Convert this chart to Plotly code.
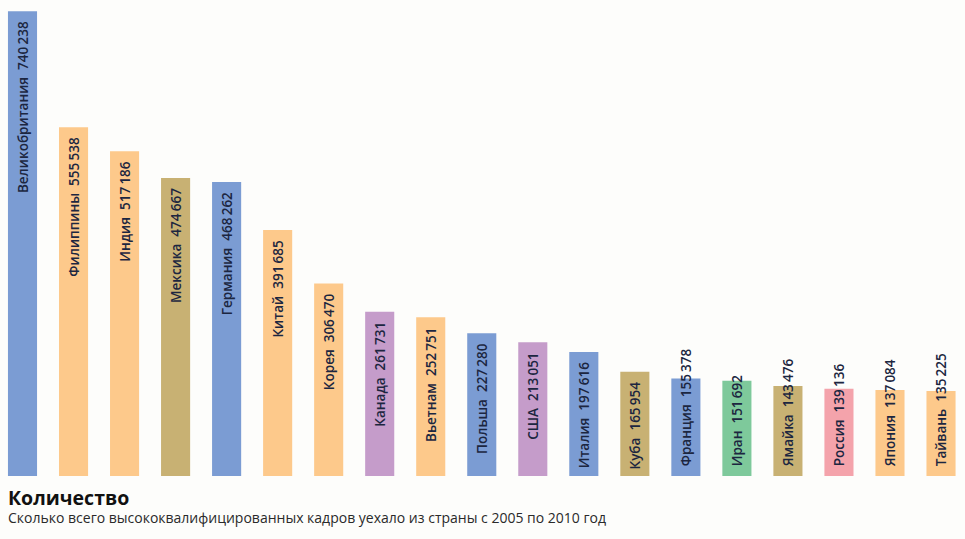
import plotly.graph_objects as go

countries = ["Великобритания", "Филиппины", "Индия", "Мексика", "Германия", "Китай", "Корея",
             "Канада", "Вьетнам", "Польша", "США", "Италия", "Куба", "Франция", "Иран",
             "Ямайка", "Россия", "Япония", "Тайвань"]
values = [740238, 555538, 517186, 474667, 468262, 391685, 306470, 261731, 252751, 227280,
          213051, 197616, 165954, 155378, 151692, 143476, 139136, 137084, 135225]
value_labels = ["740\u2009238", "555\u2009538", "517\u2009186", "474\u2009667", "468\u2009262",
                "391\u2009685", "306\u2009470", "261\u2009731", "252\u2009751", "227\u2009280",
                "213\u2009051", "197\u2009616", "165\u2009954", "155\u2009378", "151\u2009692",
                "143\u2009476", "139\u2009136", "137\u2009084", "135\u2009225"]

BLUE, ORANGE, KHAKI, PURPLE, GREEN, PINK = "#7b9cd3", "#fdc98b", "#c8b173", "#c59cca", "#7ec99b", "#f4a3ab"
colors = [BLUE, ORANGE, ORANGE, KHAKI, BLUE, ORANGE, ORANGE, PURPLE, ORANGE, BLUE,
          PURPLE, BLUE, KHAKI, BLUE, GREEN, KHAKI, PINK, ORANGE, ORANGE]

title = "Количество"
subtitle = "Сколько всего высококвалифицированных кадров уехало из страны с 2005 по 2010 год"

# bars whose label fits are top-anchored; the short ones start at the base and overflow
n_top = 13
xs = list(range(len(countries)))
font = dict(family="Open Sans", size=13.5, color="#1c2640", weight=600)
pad = "<span style='color:rgba(0,0,0,0)'> .</span>"

fig = go.Figure()
fig.add_trace(go.Bar(
    x=xs[:n_top], y=values[:n_top], width=0.57,
    marker=dict(color=colors[:n_top], line=dict(width=0)),
    text=[f"{c}  {v}{pad}" for c, v in zip(countries[:n_top], value_labels[:n_top])],
    textposition="inside", insidetextanchor="end", textangle=-90,
    constraintext="none", cliponaxis=False, textfont=font, hoverinfo="skip",
))
fig.add_trace(go.Bar(
    x=xs[n_top:], y=values[n_top:], width=0.57,
    marker=dict(color=colors[n_top:], line=dict(width=0)),
    text=[f"\u2002{c}  {v}" for c, v in zip(countries[n_top:], value_labels[n_top:])],
    textposition="inside", insidetextanchor="start", textangle=-90,
    constraintext="none", cliponaxis=False, textfont=font, hoverinfo="skip",
))

fig.update_layout(
    width=965, height=539,
    margin=dict(l=0, r=0, t=0, b=63),
    paper_bgcolor="#fdfdfb",
    plot_bgcolor="#fdfdfb",
    showlegend=False,
    barmode="overlay",
    xaxis=dict(range=[-0.441, 18.47], visible=False, fixedrange=True),
    yaxis=dict(range=[0, 758000], visible=False, fixedrange=True),
    annotations=[
        dict(text=f"<b><span style='font-size:19.5px;color:#111111'>{title}</span></b><br>{subtitle}",
             x=0.006, y=-0.062, xref="paper", yref="paper",
             xanchor="left", yanchor="middle", align="left", showarrow=False,
             font=dict(family="Open Sans", size=14, color="#2a2a2a")),
    ],
)

fig.write_html("out.html")
